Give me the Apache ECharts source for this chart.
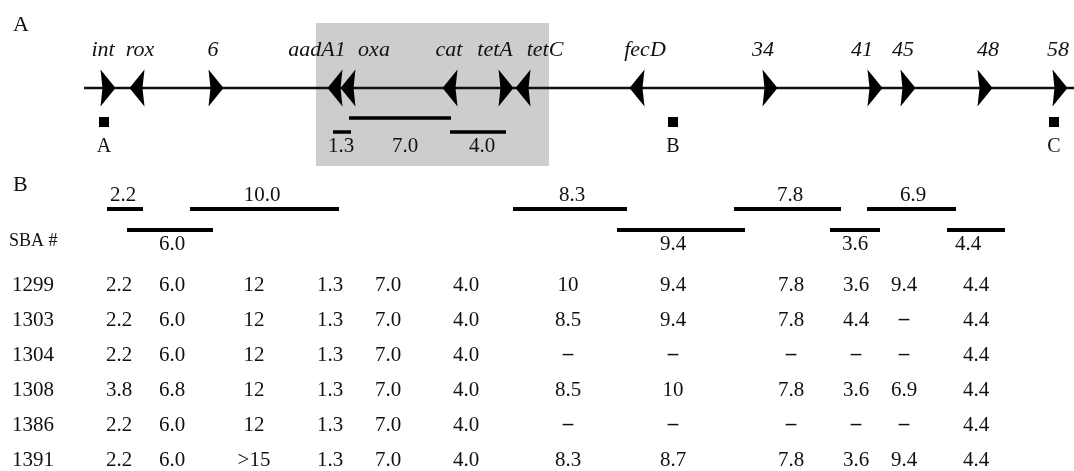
<!DOCTYPE html>
<html><head><meta charset="utf-8">
<script src="https://cdn.jsdelivr.net/npm/echarts@6/dist/echarts.min.js"></script>
<style>html,body{margin:0;padding:0;background:#fff}#c{width:1074px;height:471px}</style>
</head><body><div id="c"></div>
<script>
// ---- Panel A: genetic map (positions along the map, layout units) ----
const geneNames    = ['int','rox','6','aadA1','oxa','cat','tetA','tetC','fecD','34','41','45','48','58'];
const genePos      = [108, 137, 216, 335, 348, 450, 506, 523, 637, 770, 875, 908, 985, 1060];
const geneDir      = [1, -1, 1, -1, -1, -1, 1, -1, -1, 1, 1, 1, 1, 1];
const geneLabelPos = [103, 140, 213, 317, 374, 449, 495, 545, 645, 763, 862, 903, 988, 1058];
const mapStart = 84, mapEnd = 1074;
const boxRange = [316, 549];           // shaded region along the map
const probeNames = ['A','B','C'];
const probePos   = [104, 673, 1054];
// fragments inside shaded region: [start, end, level]
const fragA      = [[333, 351, 1], [349, 451, 0], [450, 506, 1]];
const fragALabel = ['1.3', '7.0', '4.0'];
const fragALabelPos = [341, 405, 482];

// ---- Panel B: restriction fragments of reference ----
const fragBLabel = ['2.2','10.0','8.3','7.8','6.9','6.0','9.4','3.6','4.4'];
const fragBStart = [107, 190, 513, 734, 867, 127, 617, 830, 947];
const fragBEnd   = [143, 339, 627, 841, 956, 213, 745, 880, 1005];
const fragBLevel = [0, 0, 0, 0, 0, 1, 1, 1, 1];
const fragBLabelPos = [123, 262, 572, 790, 913, 172, 673, 855, 968];

// ---- Table ----
const sbaStrains = ['1299','1303','1304','1308','1386','1391'];
const columnPos  = [119, 172, 254, 330, 388, 466, 568, 673, 791, 856, 904, 976];
const row1299 = ['2.2','6.0','12','1.3','7.0','4.0','10','9.4','7.8','3.6','9.4','4.4'];
const row1303 = ['2.2','6.0','12','1.3','7.0','4.0','8.5','9.4','7.8','4.4','-','4.4'];
const row1304 = ['2.2','6.0','12','1.3','7.0','4.0','-','-','-','-','-','4.4'];
const row1308 = ['3.8','6.8','12','1.3','7.0','4.0','8.5','10','7.8','3.6','6.9','4.4'];
const row1386 = ['2.2','6.0','12','1.3','7.0','4.0','-','-','-','-','-','4.4'];
const row1391 = ['2.2','6.0','>15','1.3','7.0','4.0','8.3','8.7','7.8','3.6','9.4','4.4'];
const tableRows = [row1299, row1303, row1304, row1308, row1386, row1391];

// ---- layout (vertical levels) ----
const Y = {
  panelA: 25, geneLabel: 50, map: 88, probe: 122, probeLabel: 147,
  fragA: [118, 132], fragALabel: 146, boxTop: 23, boxBottom: 166,
  panelB: 185, fragB: [209, 230], fragBLabel: [195, 244], header: 241,
  row0: 285, rowStep: 35
};
const SERIF = '"Liberation Serif", "Times New Roman", serif';

// text items
const texts = [];
function addText(t, x, y, font, align, weight) { texts.push({ value: [x, y], t, font, align: align || 'center', weight: weight || 'normal' }); }
addText('A', 13, Y.panelA, '22px', 'left');
addText('B', 13, Y.panelB, '22px', 'left');
geneNames.forEach((g, i) => addText(g, geneLabelPos[i], Y.geneLabel, 'italic 22px'));
probeNames.forEach((p, i) => addText(p, probePos[i], Y.probeLabel, '20px'));
fragALabel.forEach((l, i) => addText(l, fragALabelPos[i], Y.fragALabel, '21px'));
fragBLabel.forEach((l, i) => addText(l, fragBLabelPos[i], Y.fragBLabel[fragBLevel[i]], '21px'));
addText('SBA #', 9, Y.header, '18px', 'left');
sbaStrains.forEach((s, r) => {
  const y = Y.row0 + r * Y.rowStep;
  addText(s, 12, y, '21px', 'left');
  tableRows[r].forEach((v, c) => {
    if (v === '-') addText('\u2013', columnPos[c], y, '21px', 'center', 'bold');
    else addText(v, columnPos[c], y, '21px', 'center');
  });
});

const segments = [];
fragA.forEach(f => segments.push({ value: [f[0], f[1], Y.fragA[f[2]]], w: 3.5 }));
fragBLabel.forEach((l, i) => segments.push({ value: [fragBStart[i], fragBEnd[i], Y.fragB[fragBLevel[i]]], w: 4 }));

const chart = echarts.init(document.getElementById('c'), null, { renderer: 'canvas' });
chart.setOption({
  animation: false,
  backgroundColor: '#ffffff',
  grid: { left: 0, right: 0, top: 0, bottom: 0 },
  xAxis: { type: 'value', min: 0, max: 1074, show: false },
  yAxis: { type: 'value', min: 0, max: 471, inverse: true, show: false },
  series: [
    { // shaded box
      type: 'custom', z: 1,
      data: [[boxRange[0], boxRange[1]]],
      renderItem: (p, api) => {
        const a = api.coord([api.value(0), Y.boxTop]);
        const b = api.coord([api.value(1), Y.boxBottom]);
        return { type: 'rect', shape: { x: a[0], y: a[1], width: b[0] - a[0], height: b[1] - a[1] }, style: { fill: '#cdcdcd' } };
      }
    },
    { // map line
      type: 'line', z: 2, showSymbol: false, silent: true,
      data: [[mapStart, Y.map], [mapEnd, Y.map]],
      lineStyle: { color: '#111', width: 2.5 }
    },
    { // gene arrows
      type: 'custom', z: 3,
      data: genePos.map((p, i) => [p, geneDir[i]]),
      renderItem: (p, api) => {
        const c = api.coord([api.value(0), Y.map]);
        const d = api.value(1), hw = 7.5, hh = 18.5;
        const pts = d > 0
          ? [[c[0] - hw, c[1] - hh], [c[0] + hw, c[1]], [c[0] - hw, c[1] + hh], [c[0] - hw + 2, c[1]]]
          : [[c[0] + hw, c[1] - hh], [c[0] - hw, c[1]], [c[0] + hw, c[1] + hh], [c[0] + hw - 2, c[1]]];
        return { type: 'polygon', shape: { points: pts }, style: { fill: '#000' } };
      }
    },
    { // fragment bars
      type: 'custom', z: 4,
      data: segments,
      renderItem: (p, api) => {
        const a = api.coord([api.value(0), api.value(2)]);
        const b = api.coord([api.value(1), api.value(2)]);
        return { type: 'line', shape: { x1: a[0], y1: a[1], x2: b[0], y2: b[1] }, style: { stroke: '#000', lineWidth: segments[p.dataIndex].w } };
      }
    },
    { // probe squares
      type: 'scatter', z: 5, symbol: 'rect', symbolSize: [10, 10],
      data: probePos.map(p => [p, Y.probe]),
      itemStyle: { color: '#000', opacity: 1 }
    },
    { // texts
      type: 'custom', z: 6,
      data: texts,
      renderItem: (p, api) => {
        const it = texts[p.dataIndex];
        const c = api.coord([api.value(0), api.value(1)]);
        return { type: 'text', x: c[0], y: c[1], style: {
          text: it.t, font: (it.weight === 'bold' ? 'bold ' : '') + it.font + ' ' + SERIF,
          fill: '#111', align: it.align, verticalAlign: 'middle' } };
      }
    }
  ]
});
</script>
</body></html>
